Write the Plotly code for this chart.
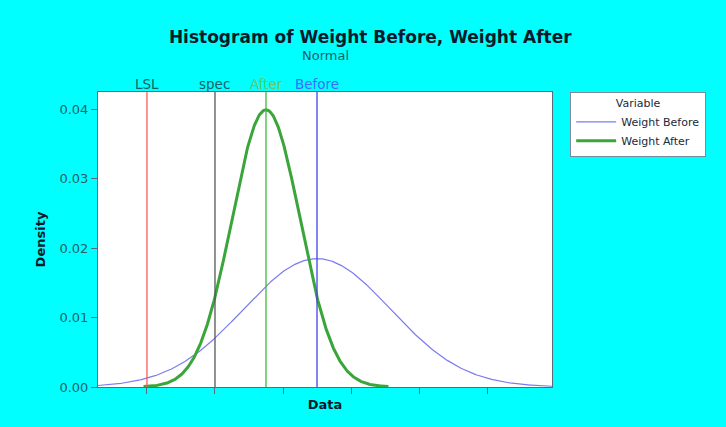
import numpy as np
import plotly.graph_objects as go

# ---- data ----
variables = ["Weight Before", "Weight After"]
means = [170.0, 155.0]
stdevs = [21.6, 10.0]
curve_from = [105.6, 119.0]
curve_to = [239.1, 191.0]
line_colors = ["#7b7bf0", "#3aa53a"]
line_widths = [1.2, 3]

ref_names = ["LSL", "spec", "After", "Before"]
ref_values = [120.0, 140.0, 155.0, 170.0]
ref_line_colors = ["#ff5a5a", "#555555", "#40b840", "#4040ee"]
ref_text_colors = ["#1f5f66", "#1f5f66", "#6cc46c", "#3d6bff"]

x_ticks = [120, 140, 160, 180, 200, 220]
y_ticks = [0.00, 0.01, 0.02, 0.03, 0.04]
y_tick_labels = ["0.00", "0.01", "0.02", "0.03", "0.04"]

fig = go.Figure()
for name, m, s, a, b, c, w in zip(variables, means, stdevs, curve_from, curve_to, line_colors, line_widths):
    x = np.linspace(a, b, 400)
    y = np.exp(-0.5 * ((x - m) / s) ** 2) / (s * np.sqrt(2 * np.pi))
    fig.add_trace(go.Scatter(x=x, y=y, mode="lines", name=name,
                             line=dict(color=c, width=w)))

for name, v, lc, tc in zip(ref_names, ref_values, ref_line_colors, ref_text_colors):
    fig.add_shape(type="line", xref="x", yref="paper", x0=v, x1=v, y0=0, y1=1,
                  line=dict(color=lc, width=1.3))
    fig.add_annotation(x=v, y=1, xref="x", yref="paper", text=name, showarrow=False,
                       yanchor="bottom", yshift=-2, font=dict(size=13.5, color=tc))

fig.add_annotation(text="Normal", xref="paper", yref="paper", x=0.5, y=1.125,
                   xanchor="center", yanchor="middle",
                   showarrow=False, font=dict(size=13, color="#1f5f66"))

fig.update_layout(
    width=726, height=427,
    paper_bgcolor="#00ffff", plot_bgcolor="white",
    font=dict(family="DejaVu Sans", color="#1f5f66"),
    margin=dict(l=98, r=174, t=92, b=40),
    title=dict(text="<b>Histogram of Weight Before, Weight After</b>",
               x=0.51, xanchor="center", y=0.913, yanchor="middle",
               font=dict(size=17, color="#0a1a2a")),
    legend=dict(x=1.04, y=1, xanchor="left", yanchor="top",
                bgcolor="white", bordercolor="#7a8a9a", borderwidth=1,
                font=dict(size=11, color="#1a2a3a"), itemwidth=40,
                title=dict(text="Variable", side="top center", font=dict(size=11, color="#1a2a3a"))),
    showlegend=True,
)
fig.update_xaxes(range=[105.6, 239.1], tickvals=x_ticks, showticklabels=False,
                 ticks="outside", ticklen=6, tickcolor="#5a6a7a",
                 showline=True, linecolor="#5a6a7a", mirror=True, showgrid=False,
                 zeroline=False,
                 title=dict(text="<b>Data</b>", standoff=6, font=dict(size=13, color="#0a1a2a")))
fig.update_yaxes(range=[0, 0.04245], tickvals=y_ticks, ticktext=y_tick_labels,
                 ticks="outside", ticklen=6, tickcolor="#5a6a7a",
                 tickfont=dict(size=13, color="#1f5f66"),
                 showline=True, linecolor="#5a6a7a", mirror=True, showgrid=False,
                 zeroline=False,
                 title=dict(text="<b>Density</b>", standoff=10, font=dict(size=13, color="#0a1a2a")))

fig.write_html("out.html", config={"displayModeBar": False},
               post_script="document.body.style.margin='0px';document.body.style.background='#00ffff';")
